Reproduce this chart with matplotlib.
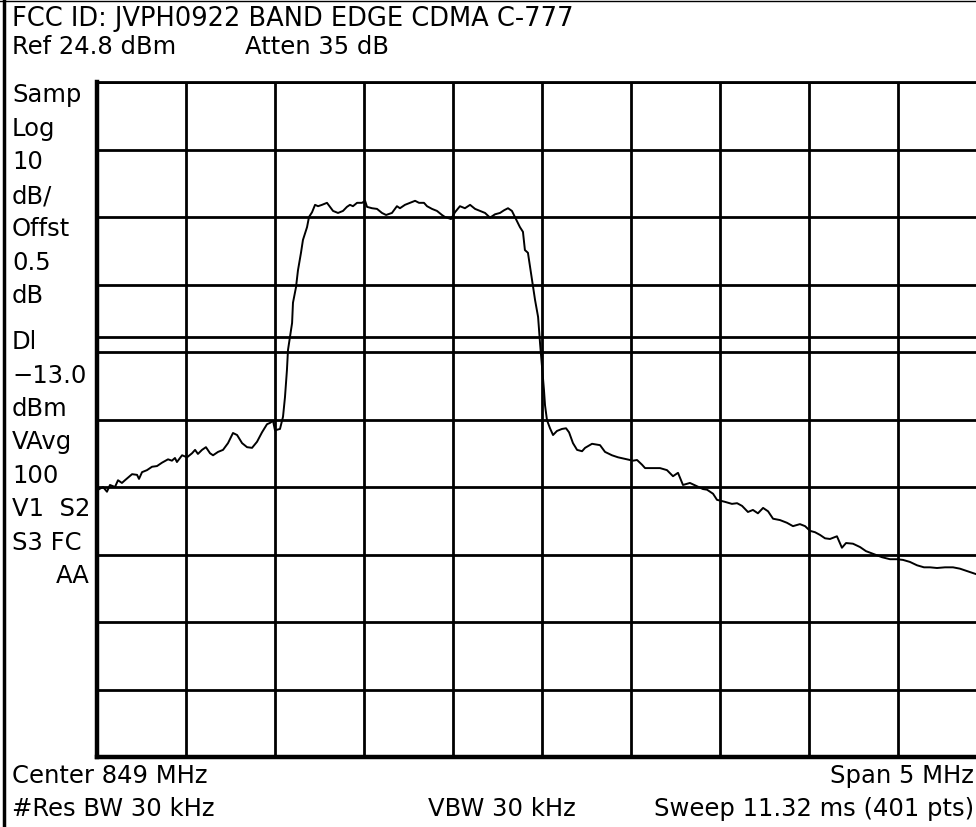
import matplotlib
matplotlib.use("Agg")
import matplotlib.pyplot as plt
from matplotlib.lines import Line2D

# ---- trace data ----
freq_mhz = [
    846.506, 846.534, 846.556, 846.573, 846.601, 846.618, 846.640, 846.657, 846.697, 846.725,
    846.736, 846.753, 846.781, 846.809, 846.837, 846.865, 846.899, 846.921, 846.938, 846.949,
    846.978, 847.006, 847.034, 847.051, 847.067, 847.090, 847.112, 847.135, 847.152, 847.180,
    847.208, 847.236, 847.264, 847.287, 847.315, 847.343, 847.371, 847.399, 847.427, 847.455,
    847.472, 847.489, 847.500, 847.528, 847.545, 847.556, 847.567, 847.573, 847.584, 847.596,
    847.601, 847.618, 847.629, 847.646, 847.657, 847.680, 847.691, 847.708, 847.725, 847.742,
    847.764, 847.792, 847.809, 847.826, 847.854, 847.882, 847.904, 847.921, 847.938, 847.961,
    847.989, 848.006, 848.017, 848.045, 848.073, 848.101, 848.124, 848.157, 848.185, 848.202,
    848.230, 848.258, 848.287, 848.309, 848.337, 848.354, 848.382, 848.410, 848.438, 848.455,
    848.489, 848.511, 848.539, 848.567, 848.596, 848.624, 848.652, 848.680, 848.708, 848.736,
    848.764, 848.787, 848.809, 848.831, 848.848, 848.876, 848.893, 848.904, 848.921, 848.944,
    848.961, 848.978, 848.989, 849.000, 849.011, 849.017, 849.028, 849.045, 849.062, 849.084,
    849.112, 849.135, 849.152, 849.174, 849.197, 849.225, 849.242, 849.281, 849.326, 849.354,
    849.393, 849.427, 849.478, 849.511, 849.534, 849.562, 849.579, 849.635, 849.663, 849.702,
    849.736, 849.764, 849.792, 849.831, 849.871, 849.904, 849.927, 849.961, 849.983, 850.028,
    850.067, 850.096, 850.124, 850.157, 850.185, 850.213, 850.242, 850.270, 850.298, 850.337,
    850.376, 850.410, 850.449, 850.478, 850.506, 850.534, 850.562, 850.590, 850.618, 850.657,
    850.685, 850.708, 850.747, 850.787, 850.820, 850.860, 850.910, 850.955, 850.994, 851.028,
    851.067, 851.107, 851.146, 851.180, 851.219, 851.264, 851.309, 851.348, 851.382, 851.416,
    851.449, 851.494,
]
level_dbm = [
    -35.6, -35.2, -35.9, -34.9, -35.2, -34.2, -34.6, -34.2, -33.3, -33.4,
    -34.0, -33.0, -32.7, -32.2, -32.1, -31.6, -31.1, -31.3, -30.9, -31.5,
    -30.5, -30.8, -30.2, -29.7, -30.3, -29.7, -29.3, -30.2, -30.5, -30.0,
    -29.7, -28.7, -27.2, -27.5, -28.7, -29.3, -29.4, -28.5, -27.1, -25.9,
    -25.7, -25.4, -26.8, -26.6, -24.8, -21.9, -17.9, -14.9, -13.0, -10.9,
    -7.9, -5.6, -3.1, -0.5, 1.4, 3.3, 4.8, 5.5, 6.6, 6.4,
    6.6, 6.9, 6.3, 5.7, 5.4, 5.7, 6.3, 6.6, 6.4, 6.9,
    6.9, 7.2, 6.3, 6.1, 6.0, 5.4, 5.1, 5.4, 6.4, 6.1,
    6.6, 6.9, 7.2, 6.9, 6.9, 6.4, 6.0, 5.7, 5.1, 4.8,
    4.5, 5.5, 6.4, 6.1, 6.6, 6.0, 5.7, 5.4, 4.7, 5.2,
    5.4, 5.8, 6.1, 5.7, 4.8, 3.3, 2.6, -0.1, -0.5, -4.5,
    -7.5, -10.0, -13.9, -17.4, -20.8, -23.1, -25.3, -26.5, -27.5, -26.9,
    -26.6, -26.5, -27.1, -28.7, -29.7, -29.9, -29.4, -28.8, -29.0, -30.0,
    -30.5, -30.8, -31.1, -31.3, -31.2, -31.9, -32.4, -32.4, -32.4, -32.7,
    -33.6, -33.1, -34.9, -34.6, -35.1, -35.5, -35.6, -36.2, -37.1, -37.4,
    -37.7, -37.6, -38.0, -38.9, -38.6, -39.1, -38.3, -38.8, -39.9, -40.1,
    -40.5, -41.0, -40.7, -41.0, -41.7, -41.9, -42.3, -42.8, -42.9, -42.5,
    -44.2, -43.5, -43.6, -44.1, -44.7, -45.1, -45.6, -45.9, -45.9, -46.0,
    -46.3, -46.8, -47.1, -47.1, -47.2, -47.1, -47.1, -47.3, -47.6, -47.9,
    -48.2, -48.5,
]

# ---- instrument settings ----
ref_level_dbm = 24.8
db_per_div = 10
n_divs = 10
center_mhz = 849.0
span_mhz = 5.0
display_line_dbm = -13.0

title_text = "FCC ID: JVPH0922 BAND EDGE CDMA C-777"
ref_text = "Ref 24.8 dBm"
atten_text = "Atten 35 dB"
side_labels = ["Samp", "Log", "10", "dB/", "Offst", "0.5", "dB",
               "Dl", "\u221213.0", "dBm", "VAvg", "100", "V1  S2", "S3 FC"]
side_label_last = "AA"
center_text = "Center 849 MHz"
span_text = "Span 5 MHz"
rbw_text = "#Res BW 30 kHz"
vbw_text = "VBW 30 kHz"
sweep_text = "Sweep 11.32 ms (401 pts)"

W, H = 976, 827
plt.rcParams["font.family"] = ["DejaVu Sans"]
FS = 17.5

fig = plt.figure(figsize=(W / 100, H / 100), dpi=100)
fig.patch.set_facecolor("white")

# graticule
gl, gt, gb, gr = 97, 82, 757, 987
ax = fig.add_axes([gl / W, 1 - gb / H, (gr - gl) / W, (gb - gt) / H])
x0 = center_mhz - span_mhz / 2
x1 = center_mhz + span_mhz / 2
y1 = ref_level_dbm
y0 = ref_level_dbm - db_per_div * n_divs
ax.set_xlim(x0, x1)
ax.set_ylim(y0, y1)
ax.set_xticks([x0 + i * span_mhz / n_divs for i in range(n_divs + 1)])
ax.set_yticks([y0 + i * db_per_div for i in range(n_divs + 1)])
ax.grid(True, color="black", linewidth=2.0)
ax.tick_params(length=0, labelbottom=False, labelleft=False)
ax.spines["left"].set_linewidth(3.2)
ax.spines["bottom"].set_linewidth(3.2)
ax.spines["top"].set_linewidth(2.0)
ax.spines["right"].set_linewidth(2.0)
ax.axhline(display_line_dbm, color="black", linewidth=2.0)
ax.plot(freq_mhz, level_dbm, color="black", linewidth=1.4, clip_on=True)

# outer frame lines
fig.add_artist(Line2D([4 / W, 4 / W], [0, 1], transform=fig.transFigure,
                      color="black", linewidth=2.5))
fig.add_artist(Line2D([0, 1], [1 - 1 / H, 1 - 1 / H], transform=fig.transFigure,
                      color="black", linewidth=1.0))

def ptext(x, y, s, ha="left", fs=FS):
    fig.text(x / W, 1 - y / H, s, ha=ha, va="center", fontsize=fs, color="black")

ptext(12, 19, title_text, fs=18.5)
ptext(12, 47, ref_text)
ptext(245, 47, atten_text)

row_y = [95, 129, 162, 196, 229, 263, 296, 342, 376, 409, 442, 476, 509, 543]
for lab, yy in zip(side_labels, row_y):
    ptext(12, yy, lab)
ptext(90, 576, side_label_last, ha="right")

ptext(12, 776, center_text)
ptext(974, 776, span_text, ha="right")
ptext(12, 809, rbw_text)
ptext(428, 809, vbw_text)
ptext(974, 809, sweep_text, ha="right")

fig.savefig("out.png", dpi=100)
